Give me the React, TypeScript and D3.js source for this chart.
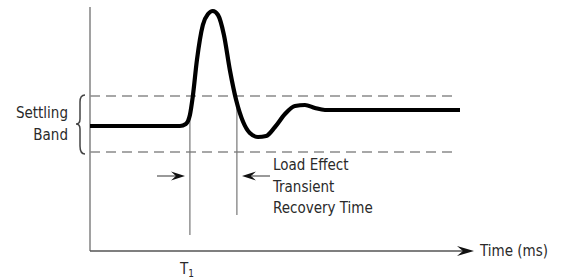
import React from "react";
import * as d3 from "d3";

// response curve (time units, level units)
const curveTime = [0, 24.3, 25.9, 27, 27.8, 28.9, 30.5, 31.9, 33.2, 34.6, 36.2, 37.8, 39.5, 41.4, 43.2, 45.4, 47.6, 50, 52.7, 55.4, 58.1, 60.8, 63.5, 100];
const curveLevel = [12.4, 12.4, 12.6, 13.5, 15.4, 19, 22.5, 23.6, 23.9, 23.5, 21.5, 18, 15, 12.8, 11.7, 11.3, 11.4, 12.3, 13.6, 14.4, 14.5, 14.2, 14, 14];
const bandLevels = [15.4, 9.8];
const markerTimes = [27, 39.7];
const markerTops = [13.5, 15.0];
const markerBottoms = [1.5, 3.5];
const noteLines = ["Load Effect", "Transient", "Recovery Time"];
const bandLabel = ["Settling", "Band"];

const W = 562;
const H = 279;
const FONT = "'Liberation Sans Narrow', 'DejaVu Sans Condensed', Arial, sans-serif";

const App: React.FC = () => {
  const x = d3.scaleLinear().domain([0, 100]).range([90, 460]);
  const y = d3.scaleLinear().domain([0, 24.3]).range([250, 7]);

  const pts: [number, number][] = curveTime.map((t, i) => [t, curveLevel[i]]);
  const line = d3
    .line<[number, number]>()
    .x((d) => x(d[0]))
    .y((d) => y(d[1]))
    .curve(d3.curveMonotoneX);

  const axisY = 251;
  const arrowY = 176;
  const gray = "#8a8a8a";
  const top = y(bandLevels[0]);
  const bot = y(bandLevels[1]);
  const mid = (top + bot) / 2;

  // barbed arrowhead pointing in direction dir (1 = right, -1 = left)
  const head = (tx: number, ty: number, dir: number, len = 14, half = 4.5) =>
    `M${tx},${ty} L${tx - dir * len},${ty - half} L${tx - dir * len * 0.65},${ty} L${tx - dir * len},${ty + half} Z`;

  return (
    <svg width={W} height={H} style={{ position: "absolute", left: 0, top: 0, background: "#fff" }} fontFamily={FONT}>
      {/* axes */}
      <line x1={x(0)} y1={7} x2={x(0)} y2={axisY} stroke={gray} strokeWidth={1.6} />
      <line x1={x(0)} y1={axisY} x2={468} y2={axisY} stroke="#555" strokeWidth={1.4} />
      <path d={head(474, axisY, 1, 17, 5)} fill="#111" />
      <text x={480} y={256} fontSize={15} fill="#2a2a2a">Time (ms)</text>

      {/* settling band */}
      {bandLevels.map((v, i) => (
        <line key={i} x1={x(0)} x2={458} y1={y(v)} y2={y(v)} stroke={gray} strokeWidth={1.5} strokeDasharray="10,6" />
      ))}

      {/* markers */}
      {markerTimes.map((t, i) => (
        <line key={i} x1={x(t)} x2={x(t)} y1={y(markerTops[i])} y2={y(markerBottoms[i])} stroke="#777" strokeWidth={1.2} />
      ))}

      {/* response */}
      <path d={line(pts) ?? ""} fill="none" stroke="#000" strokeWidth={4.2} strokeLinejoin="round" />

      {/* arrows */}
      <line x1={157} x2={176} y1={arrowY} y2={arrowY} stroke="#555" strokeWidth={1.2} />
      <path d={head(185, arrowY, 1, 14, 4.5)} fill="#111" />
      <line x1={252} x2={270} y1={arrowY} y2={arrowY} stroke="#555" strokeWidth={1.2} />
      <path d={head(242, arrowY, -1, 14, 4.5)} fill="#111" />

      {noteLines.map((s, i) => (
        <text key={i} x={273} y={170 + i * 21.5} fontSize={15} fill="#2a2a2a">{s}</text>
      ))}

      {/* brace */}
      <path
        d={`M85,${top - 1} Q80,${top - 1} 80,${top + 6} L80,${mid - 5} Q80,${mid} 76,${mid} Q80,${mid} 80,${mid + 5} L80,${bot - 6} Q80,${bot + 2} 85,${bot + 2}`}
        fill="none"
        stroke="#444"
        strokeWidth={1.5}
      />
      {bandLabel.map((s, i) => (
        <text key={i} x={68} y={118 + i * 22} fontSize={15} fill="#2a2a2a" textAnchor="end">{s}</text>
      ))}

      <text x={180} y={274} fontSize={15} fill="#2a2a2a">
        T<tspan fontSize={10} dy={3}>1</tspan>
      </text>
    </svg>
  );
};

export default App;
